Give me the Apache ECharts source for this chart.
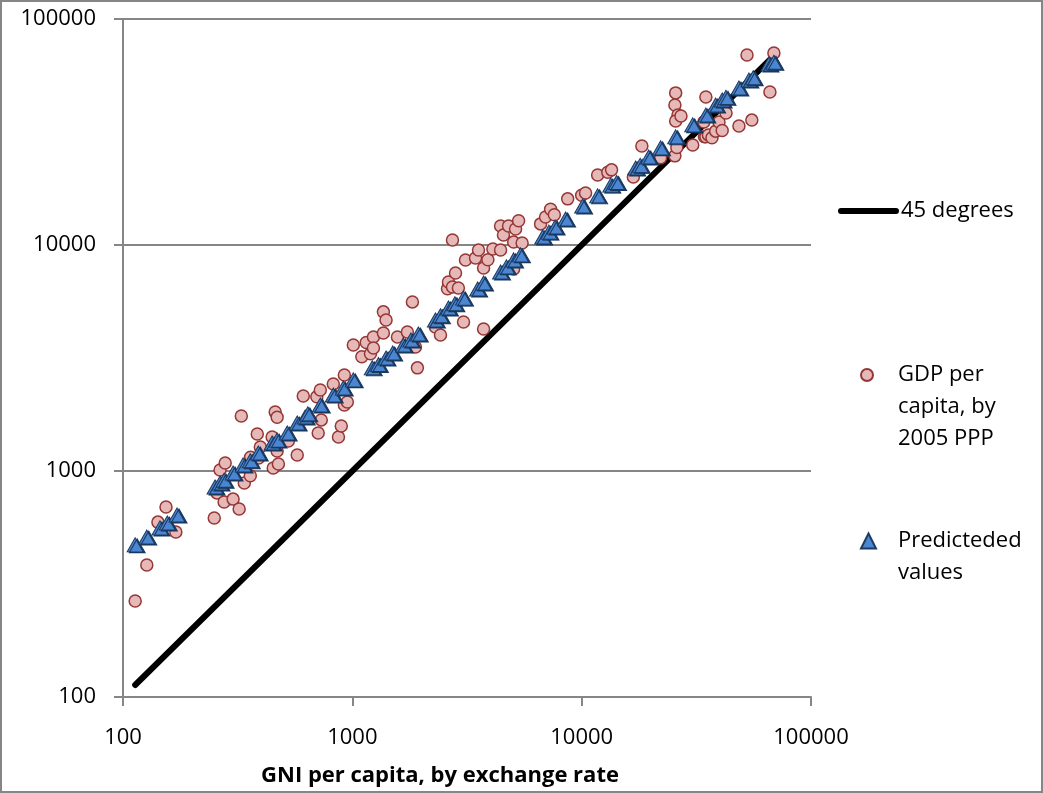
<!DOCTYPE html>
<html>
<head>
<meta charset="utf-8">
<script src="https://cdn.jsdelivr.net/npm/echarts@6/dist/echarts.min.js"></script>
<style>
  html, body { margin: 0; padding: 0; background: #fff; }
  #chart { width: 1043px; height: 793px; }
</style>
</head>
<body>
<div id="chart"></div>
<script>
// axis range (log scale, both axes)
const axisMin = 100
const axisMax = 100000

// 45 degree reference line: from lowest to highest GNI
const lineEnds = [113, 66000]

// GDP per capita (2005 PPP) against GNI per capita (exchange rate)
const gdpData = [
  [113, 266], [127, 384], [142, 594], [154, 693], [170, 537],
  [250, 619], [257, 800], [265, 1010], [276, 729], [279, 1085], [302, 751], [321, 679], [328, 1750], [338, 885], [359, 952], [360, 1150],
  [385, 1457], [390, 1142], [397, 1277], [447, 1413], [452, 1031], [461, 1824], [470, 1730], [470, 1225], [476, 1074], [526, 1358], [575, 1177],
  [611, 2148], [700, 2130], [710, 1472], [725, 2283], [732, 1683], [826, 2427], [870, 1413], [895, 1583], [923, 2660], [923, 1960], [951, 2020], [1010, 3610],
  [1100, 3200], [1150, 3700], [1200, 3300], [1236, 3920], [1236, 3500], [1366, 5060], [1403, 4660], [1366, 4080], [1573, 3920], [1738, 4120], [1828, 5600], [1884, 3540], [1922, 2860],
  [2303, 4340], [2423, 4000], [2600, 6400], [2625, 6860], [2733, 6520], [2733, 10520], [2818, 7520], [2900, 6450], [3054, 4560], [3115, 8590], [3445, 8760], [3550, 9510], [3735, 7910], [3735, 4250], [3900, 8600],
  [4100, 9600], [4430, 12140], [4430, 9510], [4560, 11070], [4800, 12140], [5050, 10300], [5050, 7830], [5150, 11770], [5310, 12800], [5500, 10200],
  [6620, 12400], [6960, 13300], [7320, 14400], [7600, 13600], [8690, 16000], [10000, 16600], [10400, 17000], [11740, 20400], [13000, 21000], [13500, 21500], [16800, 20000],
  [18300, 27400], [22100, 24300], [25500, 24800], [25500, 41600], [25700, 47100], [26000, 27000], [26300, 37600], [25700, 35400], [27100, 37200],
  [30500, 27700], [34100, 35000], [34300, 30100], [34800, 45200], [34800, 30100], [35700, 30700], [37000, 29800], [38400, 31900], [39700, 35000], [41000, 32100], [42600, 38400], [48500, 33600],
  [52600, 69300], [55200, 35700], [66200, 47500], [68900, 70700],
]

// predicted values
const predData = [
  [113, 471], [127, 510], [145, 560], [156, 589], [172, 639],
  [252, 849], [265, 885], [276, 910], [302, 980], [334, 1064], [359, 1110], [389, 1202], [447, 1330], [470, 1370], [520, 1472], [575, 1630], [623, 1734], [640, 1790], [725, 1960], [826, 2170], [913, 2330], [1010, 2530],
  [1222, 2860], [1300, 2960], [1403, 3160], [1500, 3330], [1670, 3610], [1800, 3800], [1940, 4040], [2303, 4660], [2423, 4860], [2625, 5260], [2800, 5500], [3054, 5820], [3520, 6390], [3735, 6790],
  [4430, 7600], [4700, 8000], [5050, 8590], [5410, 9040], [6760, 10840], [7200, 11400], [7660, 12020], [8510, 13030], [10100, 14880], [11740, 16500], [13400, 18400], [14200, 18900],
  [17200, 21900], [18000, 22500], [19600, 24500], [22100, 26900], [25700, 30100], [30500, 34000], [34800, 37600], [38400, 41600], [41000, 43800], [42600, 45000], [48500, 49500], [53600, 53700], [56000, 55000], [65600, 63200], [68900, 64400],
]

const FONT = 'Open Sans'
const GRAY = '#868686'

const chart = echarts.init(document.getElementById('chart'))

const labelFmt = v => String(Math.round(v))

const legendText = {
  fontFamily: FONT,
  fontSize: 22,
  color: '#000',
  lineHeight: 32,
}

const option = {
  backgroundColor: '#fff',
  animation: false,
  grid: {
    left: 123,
    right: 232,
    top: 19,
    bottom: 96,
  },
  xAxis: {
    type: 'log',
    logBase: 10,
    min: axisMin,
    max: axisMax,
    name: 'GNI per capita, by exchange rate',
    nameLocation: 'middle',
    nameGap: 68,
    nameTextStyle: {
      fontFamily: FONT,
      fontSize: 22,
      fontWeight: 'bold',
      color: '#000',
      padding: [0, 54, 0, 0],
    },
    axisLine: { lineStyle: { color: GRAY, width: 2 } },
    axisTick: { show: true, length: 9, lineStyle: { color: GRAY, width: 2 } },
    splitLine: { show: false },
    minorTick: { show: false },
    axisLabel: {
      formatter: labelFmt,
      fontFamily: FONT,
      fontSize: 22,
      color: '#000',
      margin: 30,
    },
  },
  yAxis: {
    type: 'log',
    logBase: 10,
    min: axisMin,
    max: axisMax,
    axisLine: { show: true, lineStyle: { color: GRAY, width: 2 } },
    axisTick: { show: true, length: 9, lineStyle: { color: GRAY, width: 2 } },
    splitLine: { show: true, lineStyle: { color: GRAY, width: 2 } },
    minorTick: { show: false },
    axisLabel: {
      formatter: labelFmt,
      fontFamily: FONT,
      fontSize: 22,
      color: '#000',
      margin: 27,
    },
  },
  legend: [
    {
      data: ['45 degrees'],
      left: 838,
      top: 195,
      padding: 0,
      itemWidth: 55,
      itemHeight: 6,
      selectedMode: false,
      lineStyle: { width: 6, cap: 'round' },
      textStyle: legendText,
    },
    {
      // small square icon box, text pushed right with padding to line up at x=897
      data: ['GDP per capita, by 2005 PPP'],
      left: 860,
      top: 295,
      padding: 0,
      itemWidth: 12,
      itemHeight: 12,
      selectedMode: false,
      formatter: () => '\n\nGDP per\ncapita, by\n2005 PPP',
      textStyle: Object.assign({}, legendText, { padding: [0, 0, 0, 20] }),
    },
    {
      data: ['Predicteded values'],
      left: 860,
      top: 493,
      padding: 0,
      itemWidth: 15,
      itemHeight: 15,
      symbolKeepAspect: true,
      selectedMode: false,
      formatter: () => '\nPredicteded\nvalues',
      textStyle: Object.assign({}, legendText, { padding: [0, 0, 0, 17] }),
    },
  ],
  graphic: [
    {
      type: 'rect',
      shape: { x: 1, y: 1, width: 1041, height: 791 },
      style: { fill: 'none', stroke: GRAY, lineWidth: 2 },
      silent: true,
    },
  ],
  series: [
    {
      name: '45 degrees',
      type: 'line',
      symbol: 'none',
      data: lineEnds.map(v => [v, v]),
      lineStyle: { color: '#000', width: 6, cap: 'round' },
      itemStyle: { color: '#000' },
      z: 1,
    },
    {
      name: 'GDP per capita, by 2005 PPP',
      type: 'scatter',
      symbol: 'circle',
      symbolSize: 12,
      data: gdpData,
      itemStyle: {
        color: '#E6B9B8',
        borderColor: '#953735',
        borderWidth: 1.5,
        opacity: 1,
      },
      z: 2,
    },
    {
      name: 'Predicteded values',
      type: 'scatter',
      symbol: 'triangle',
      symbolSize: [16, 14],
      data: predData,
      itemStyle: {
        color: '#4A86D1',
        borderColor: '#1F3A60',
        borderWidth: 1,
        shadowColor: '#17375E',
        shadowOffsetX: 2,
        shadowOffsetY: 1,
        shadowBlur: 0,
        opacity: 1,
      },
      z: 3,
    },
  ],
}

chart.setOption(option)
</script>
</body>
</html>
